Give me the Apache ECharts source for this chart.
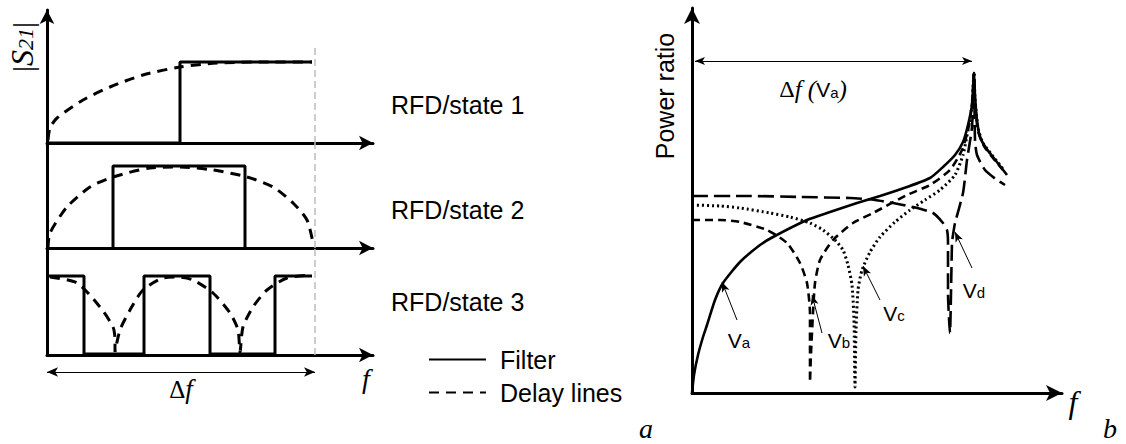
<!DOCTYPE html>
<html><head><meta charset="utf-8">
<script src="https://cdn.jsdelivr.net/npm/echarts@6/dist/echarts.min.js"></script>
<style>html,body{margin:0;padding:0;background:#fff}#c{width:1126px;height:444px}</style>
</head><body><div id="c"></div>
<script>
// ================= DATA (units) =================
// Left panel (a): three RFD states, x = frequency, y = |S21|
const state1Filter = [[0,0],[133,0],[133,81],[265,81]];
const state1Delay  = [[1,3],[3,15],[10,25],[36,43],[63,56],[96,68],[133,76],[170,80],[220,81],[265,81]];
const state2Filter = [[66,0],[66,82],[198,82],[198,0]];
const state2Delay  = [[1,0],[3,15],[20,41],[43,61],[66,71],[103,80],[133,81],[166,78],[200,71],[226,61],[246,45],[260,28],[266,5]];
const state3Filter = [[0,79],[37,79],[37,1],[97,1],[97,79],[163,79],[163,1],[228,1],[228,79],[265,79]];
const state3Delay  = [[3,78],[30,72],[53,48],[66,28],[68,15],[68,3],[73,25],[83,45],[96,65],[116,77],[130,78],[146,75],[166,62],[183,42],[191,25],[193,3],[196,28],[206,48],[220,65],[240,77],[263,80]];
const bandEdge = 268;            // end of the Δf band (grey guide)
const guideTops = [95,105,107];  // guide height in each state panel
const deltaSpanLeft = [0,268];
const stateLabels = ['RFD/state 1','RFD/state 2','RFD/state 3'];
const legendNames = ['Filter','Delay lines'];

// Right panel (b): power ratio vs f for control voltages
const vaCurve = [[0,0],[2,18],[6,38],[11,56],[15,68],[23,93],[31,110],[48,131],[68,148],[81,156],[115,173],[138,181],[165,190],[188,197],[215,206],[238,215],[251,226],[263,238],[271,251],[276,268],[280,288],[282,320],[283,298],[285,273],[288,256],[294,245],[301,236],[308,227],[315,218]];
const vbCurve = [[0,173],[28,173],[48,171],[75,163],[95,150],[108,130],[115,110],[118,80],[118,40],[118,11],[119,40],[121,80],[123,110],[128,133],[141,153],[161,170],[181,180],[215,198],[238,208],[258,223],[270,243],[276,263],[280,288],[282,320],[283,290],[286,262],[292,247],[301,235],[311,223]];
const vcCurve = [[0,188],[28,187],[48,185],[78,180],[98,176],[118,170],[131,163],[143,153],[151,143],[156,128],[160,108],[162,73],[163,6],[164,63],[166,103],[170,123],[178,141],[188,156],[203,171],[218,183],[233,193],[248,203],[263,218],[271,238],[276,263],[280,288],[282,320],[283,293],[286,265],[291,250],[300,238],[311,224]];
const vdCurve = [[0,197],[58,197],[108,196],[158,195],[183,193],[201,190],[221,186],[241,180],[251,170],[255,163],[256,150],[256,100],[258,60],[259,100],[260,150],[261,158],[263,170],[271,200],[275,233],[280,266],[282,320],[283,253],[285,238],[293,223],[305,213],[313,208]];
const deltaSpanRight = [3,280];
const vLabels = [
  {sub:'a', tail:[45,73],  head:[30,111]},
  {sub:'b', tail:[130,60], head:[120,98]},
  {sub:'c', tail:[188,93], head:[171,127]},
  {sub:'d', tail:[280,125],head:[263,161]}
];

// ================= CHART =================
const chart = echarts.init(document.getElementById('c'), null, {renderer:'svg'});
const K = '#000';
const SANS = '"Liberation Sans", Arial, sans-serif';
const SERIF = '"Liberation Serif", "Times New Roman", serif';

const leftGrids = [
  {left:47, top:10,  width:326, height:133},
  {left:47, top:143, width:326, height:105},
  {left:47, top:248, width:326, height:107}
];
const grids = leftGrids.concat([
  {left:47, top:362, width:326, height:20},   // Δf annotation strip
  {left:692, top:8, width:370, height:385}    // panel b
]);
const arrowAxis = (show, arrow, size) => ({
  show: show,
  onZero: false,
  symbol: arrow ? ['none','arrow'] : ['none','none'],
  symbolSize: size || [11,14],
  lineStyle: {color:K, width:3}
});
const bare = {axisTick:{show:false}, axisLabel:{show:false}, splitLine:{show:false}};
const xAxes = [], yAxes = [];
const yMax = [133,105,107];
for (let i=0;i<3;i++){
  xAxes.push(Object.assign({type:'value', gridIndex:i, min:0, max:326, axisLine:arrowAxis(true,true)}, bare));
  yAxes.push(Object.assign({type:'value', gridIndex:i, min:0, max:yMax[i], axisLine:arrowAxis(true,i===0)}, bare));
}
xAxes.push(Object.assign({type:'value', gridIndex:3, min:0, max:326, axisLine:{show:false}}, bare));
yAxes.push(Object.assign({type:'value', gridIndex:3, min:0, max:20, axisLine:{show:false}}, bare));
xAxes.push(Object.assign({type:'value', gridIndex:4, min:0, max:370, axisLine:arrowAxis(true,true,[12,16])}, bare));
yAxes.push(Object.assign({type:'value', gridIndex:4, min:0, max:385, axisLine:arrowAxis(true,true,[12,16])}, bare));

const series = [];
const filters = [state1Filter, state2Filter, state3Filter];
const delays  = [state1Delay, state2Delay, state3Delay];
for (let i=0;i<3;i++){
  series.push({type:'line', name:legendNames[0], xAxisIndex:i, yAxisIndex:i, data:filters[i],
    symbol:'none', lineStyle:{color:K, width:3}, itemStyle:{color:K}, z:3});
  series.push({type:'line', name:legendNames[1], xAxisIndex:i, yAxisIndex:i, data:delays[i], smooth:0.25,
    symbol:'none', lineStyle:{color:K, width:3, type:[10,7]}, itemStyle:{color:K}, z:4});
  series.push({type:'line', name:'guide'+i, xAxisIndex:i, yAxisIndex:i, data:[[bandEdge,0],[bandEdge,guideTops[i]]],
    symbol:'none', lineStyle:{color:'#bdbdbd', width:1.5, type:[7,4]}, z:1});
}
const markArrow = {silent:true, label:{show:false}, emphasis:{disabled:true}, animation:false};
series.push({type:'line', name:'span', xAxisIndex:3, yAxisIndex:3, data:[[0,10]], symbol:'none', showSymbol:false,
  lineStyle:{opacity:0},
  markLine: Object.assign({symbol:['arrow','arrow'], symbolSize:[7,11], lineStyle:{color:K, width:1, type:'solid'},
    data:[[{coord:[deltaSpanLeft[0],10]},{coord:[deltaSpanLeft[1],10]}]]}, markArrow)});

const rightStyles = [
  {data:vaCurve, type:'solid', w:2.6},
  {data:vbCurve, type:[8,5], w:2.6},
  {data:vcCurve, type:[2,3], w:3},
  {data:vdCurve, type:[16,6], w:2.6}
];
rightStyles.forEach((s,i)=>{
  series.push({type:'line', name:'V'+'abcd'[i], xAxisIndex:4, yAxisIndex:4, data:s.data, smooth:0.2,
    symbol:'none', lineStyle:{color:K, width:s.w, type:s.type}, z:3});
});
series.push({type:'line', name:'notes', xAxisIndex:4, yAxisIndex:4, data:[[0,0]], symbol:'none', showSymbol:false,
  lineStyle:{opacity:0},
  markLine: Object.assign({symbol:['none','arrow'], symbolSize:[6,10], lineStyle:{color:K, width:1, type:'solid'},
    data: vLabels.map(v=>[{coord:v.tail},{coord:v.head}])
      .concat([[{coord:[deltaSpanRight[0],332], symbol:'arrow'},{coord:[deltaSpanRight[1],332]}]])}, markArrow)});

const vRich = {v:{font:'21px '+SANS, fill:K}, s:{font:'15px '+SANS, fill:K, padding:[4,0,0,0]}};
const vPos = [[739,340],[839,340],[894,313],[974,290]];
const graphic = [
  {type:'text', x:22, y:47, rotation:Math.PI/2, style:{text:'{b||}{s|S}{n|21}{b||}', align:'center', verticalAlign:'middle',
    rich:{b:{font:'30px '+SERIF, fill:K}, s:{font:'italic 32px '+SERIF, fill:K}, n:{font:'italic 22px '+SERIF, fill:K, padding:[7,0,0,0]}}}},
  {type:'text', x:391, y:105, style:{text:stateLabels[0], font:'25px '+SANS, fill:K, verticalAlign:'middle'}},
  {type:'text', x:391, y:210, style:{text:stateLabels[1], font:'25px '+SANS, fill:K, verticalAlign:'middle'}},
  {type:'text', x:391, y:302, style:{text:stateLabels[2], font:'25px '+SANS, fill:K, verticalAlign:'middle'}},
  {type:'text', x:181, y:389, style:{text:'{d|Δ}{f|f}', align:'center', verticalAlign:'middle',
    rich:{d:{font:'25px '+SERIF, fill:K}, f:{font:'italic 27px '+SERIF, fill:K}}}},
  {type:'text', x:366, y:378, style:{text:'f', font:'italic 28px '+SERIF, fill:K, align:'center', verticalAlign:'middle'}},
  {type:'text', x:646, y:428, style:{text:'a', font:'italic 28px '+SERIF, fill:K, align:'center', verticalAlign:'middle'}},
  {type:'text', x:1110, y:428, style:{text:'b', font:'italic 28px '+SERIF, fill:K, align:'center', verticalAlign:'middle'}},
  {type:'text', x:1073, y:402, style:{text:'f', font:'italic 32px '+SERIF, fill:K, align:'center', verticalAlign:'middle'}},
  {type:'text', x:665, y:96, rotation:Math.PI/2, style:{text:'Power ratio', font:'25px '+SANS, fill:K, align:'center', verticalAlign:'middle'}},
  {type:'text', x:813, y:89, style:{text:'{d|Δ}{f|f (}{v|V}{s|a}{f|)}', align:'center', verticalAlign:'middle',
    rich:{d:{font:'24px '+SERIF, fill:K}, f:{font:'italic 25px '+SERIF, fill:K}, v:{font:'21px '+SANS, fill:K}, s:{font:'15px '+SANS, fill:K, padding:[6,0,0,0]}}}}
].concat(vLabels.map((v,i)=>({type:'text', x:vPos[i][0], y:vPos[i][1],
  style:{text:'{v|V}{s|'+v.sub+'}', align:'center', verticalAlign:'middle', rich:vRich}})));

chart.setOption({
  animation:false,
  backgroundColor:'#fff',
  grid: grids,
  xAxis: xAxes,
  yAxis: yAxes,
  legend: {data:legendNames, orient:'vertical', left:423, top:342, itemWidth:57, itemHeight:14, itemGap:8,
    selectedMode:false, itemStyle:{opacity:0},
    textStyle:{fontSize:25, fontFamily:SANS, color:K, padding:[0,0,0,9]}},
  graphic: graphic,
  series: series
});
</script></body></html>
